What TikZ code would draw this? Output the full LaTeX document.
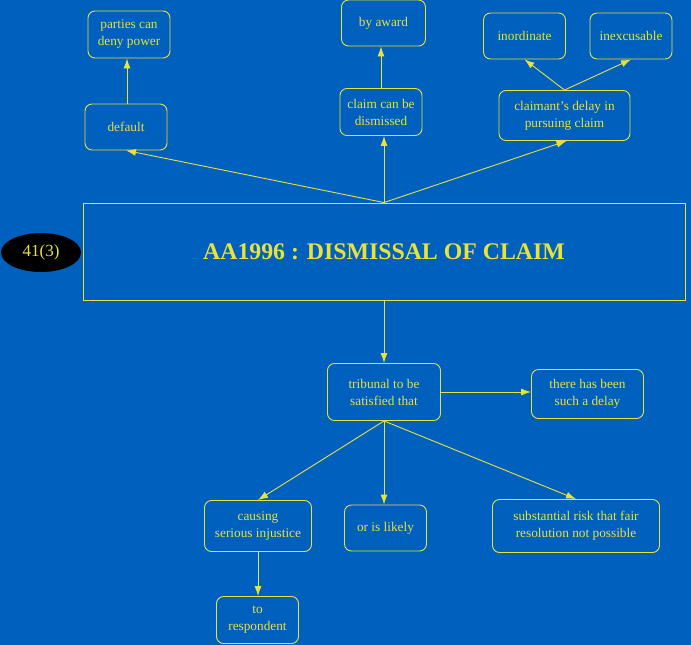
\documentclass[tikz,border=0pt]{standalone}
\usepackage{fontspec}
\setmainfont{Liberation Serif}
\usetikzlibrary{arrows.meta,shapes.geometric}
\definecolor{bgblue}{RGB}{0,96,190}
\definecolor{ylw}{RGB}{232,226,60}
\tikzset{
  box/.style={draw=ylw, line width=0.9pt, rounded corners=7pt, text=ylw, align=center,
    font=\fontsize{13.3}{17}\selectfont, inner sep=1pt},
  conn/.style={draw=ylw, line width=0.9pt, -{Latex[length=10pt,width=7pt]}},
}
\begin{document}
\begin{tikzpicture}[x=1pt,y=-1pt]
\fill[bgblue] (0,0) rectangle (691,645);
\useasboundingbox (0,0) rectangle (691,645);
% main
\node[draw=ylw, line width=0.9pt, minimum width=602pt, minimum height=97pt, text=ylw,
  font=\fontsize{23.8}{28}\selectfont\bfseries] (main) at (384,251.5) {AA1996 : DISMISSAL OF CLAIM};
\node[ellipse, fill=black, minimum width=80pt, minimum height=39pt, inner sep=0pt, text=ylw,
  font=\fontsize{17}{20}\selectfont] (sec) at (41,252.5) {41(3)};
% top
\node[box, minimum width=82pt, minimum height=47pt] (parties) at (129,34.5) {parties can\\deny power};
\node[box, minimum width=82pt, minimum height=46pt] (default) at (126,127) {default};
\node[box, minimum width=84pt, minimum height=46pt] (award) at (383.5,23) {by award};
\node[box, minimum width=82pt, minimum height=47pt] (claim) at (381,112) {claim can be\\dismissed};
\node[box, minimum width=82pt, minimum height=46pt] (inord) at (524.5,36) {inordinate};
\node[box, minimum width=82pt, minimum height=46pt] (inexc) at (631,36) {inexcusable};
\node[box, minimum width=131pt, minimum height=50pt] (delay) at (564.5,115.5) {claimant's delay in\\pursuing claim};
% bottom
\node[box, minimum width=113pt, minimum height=57pt] (trib) at (384,392) {tribunal to be\\satisfied that};
\node[box, minimum width=112pt, minimum height=49pt] (been) at (587.5,394) {there has been\\such a delay};
\node[box, minimum width=107pt, minimum height=51pt] (causing) at (258,526) {causing\\serious injustice};
\node[box, minimum width=82pt, minimum height=46pt] (likely) at (385.5,528) {or is likely};
\node[box, minimum width=167pt, minimum height=53pt] (risk) at (576,526) {substantial risk that fair\\resolution not possible};
\node[box, minimum width=82pt, minimum height=47pt] (resp) at (257.5,620) {to\\respondent};
% connectors
\draw[conn] ([xshift=1pt]default.north) -- ([xshift=1pt]default.north |- parties.south);
\draw[conn] (main.north) -- (default.south);
\draw[conn] (main.north) -- (main.north |- claim.south);
\draw[conn] (claim.north) -- (claim.north |- award.south);
\draw[conn] (main.north) -- ([xshift=2pt]delay.south);
\draw[conn] (delay.north) -- (inord.south);
\draw[conn] (delay.north) -- (inexc.south);
\draw[conn] (main.south) -- (trib.north);
\draw[conn] (trib.east) -- (trib.east -| been.west);
\draw[conn] (trib.south) -- (causing.north);
\draw[conn] (trib.south) -- (trib.south |- likely.north);
\draw[conn] (trib.south) -- (risk.north);
\draw[conn] (causing.south) -- (causing.south |- resp.north);
\end{tikzpicture}
\end{document}
